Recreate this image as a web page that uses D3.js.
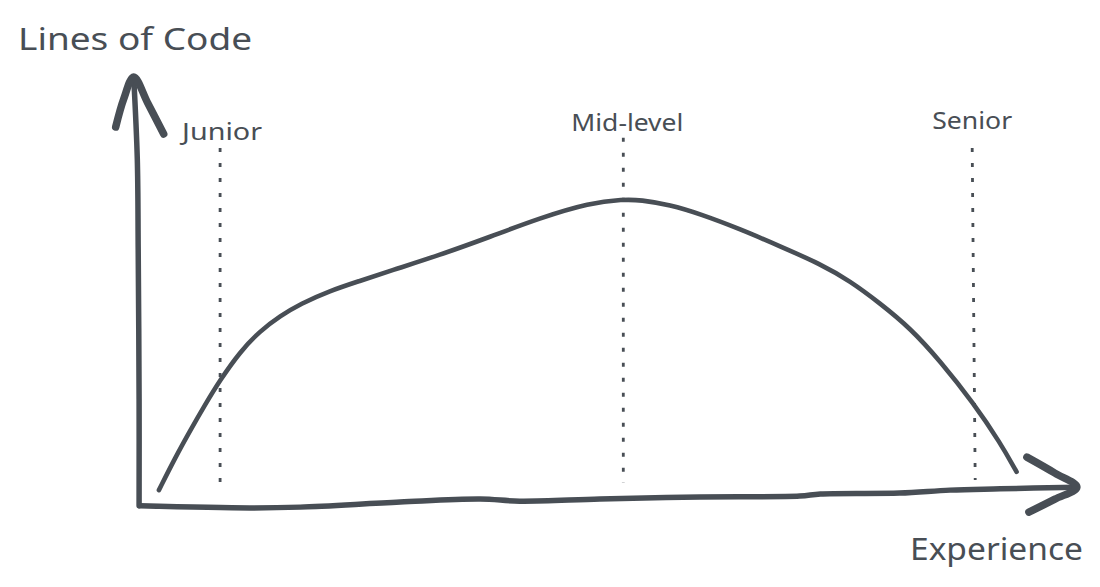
<!DOCTYPE html>
<html>
<head>
<meta charset="utf-8">
<script src="https://cdn.jsdelivr.net/npm/d3@7"></script>
<style>
  html, body { margin: 0; padding: 0; background: #ffffff; }
  svg { display: block; }
  text { font-family: "Noto Sans", "DejaVu Sans", sans-serif; fill: #484e55; }
</style>
</head>
<body>
<svg id="chart" width="1100" height="587"></svg>
<script>
// ---- data (experience 0..100 on x, lines of code 0..100 on y) ----
const curveExperience = [2.1, 3.9, 5.6, 7.2, 8.9, 11.1, 13.3, 15.6, 17.8, 21.1, 24.4, 27.8, 33.3, 38.9, 44.4, 50.0, 53.7, 55.6, 58.9, 62.2, 66.7, 71.1, 75.6, 78.9, 82.2, 85.6, 88.9, 92.6, 95.6, 97.4];
const curveLinesOfCode = [3.5, 11.1, 17.6, 23.5, 29.4, 36.0, 40.9, 44.5, 47.3, 50.4, 52.7, 55.1, 58.8, 63.1, 67.5, 71.1, 71.9, 71.8, 70.6, 68.5, 64.9, 60.9, 56.7, 52.7, 47.5, 41.6, 33.9, 24.0, 14.6, 7.8];

const levelNames = ["Junior", "Mid-level", "Senior"];
const levelExperience = [8.9, 53.7, 92.8];
const levelMarkerTop = [84.0, 86.4, 84.0];
const levelMarkerBottom = [3.1, 5.2, 5.9];

const axisTitleY = "Lines of Code";
const axisTitleX = "Experience";

// hand-drawn wobble of the x axis baseline (experience, offset)
const xAxisWobbleX = [0, 12.2, 17.8, 28.9, 37.8, 42.2, 51.1, 62.2, 73.3, 75.6, 84.4, 90.0, 95.6, 104.1];
const xAxisWobbleY = [-0.2, -0.7, -0.5, 0.7, 1.4, 0.9, 1.4, 1.9, 2.1, 2.6, 2.8, 3.5, 3.8, 4.2];
const yAxisWobbleX = [-0.1, -0.1, -0.2, -0.3, -0.7];
const yAxisWobbleY = [-0.2, 24.9, 60.2, 81.4, 100.7];

// ---- drawing ----
const ink = "#484e55";
const svg = d3.select("#chart");
const x = d3.scaleLinear().domain([0, 100]).range([140, 1040]);
const y = d3.scaleLinear().domain([0, 100]).range([505, 80]);

const line = d3.line().x(d => x(d[0])).y(d => y(d[1]));

// x axis
const xAxisPts = d3.zip(xAxisWobbleX, xAxisWobbleY);
svg.append("path")
  .attr("d", line.curve(d3.curveCatmullRom.alpha(0.5))(xAxisPts))
  .attr("fill", "none").attr("stroke", ink).attr("stroke-width", 5.5)
  .attr("stroke-linecap", "round").attr("stroke-linejoin", "round");
const xTip = xAxisPts[xAxisPts.length - 1];
svg.append("path")
  .attr("d", d3.line().curve(d3.curveCatmullRom)([
    [x(xTip[0]) - 50, y(xTip[1]) - 30],
    [x(xTip[0]) - 22, y(xTip[1]) - 14],
    [x(xTip[0]), y(xTip[1])],
    [x(xTip[0]) - 22, y(xTip[1]) + 12],
    [x(xTip[0]) - 48, y(xTip[1]) + 25]
  ]))
  .attr("fill", "none").attr("stroke", ink).attr("stroke-width", 7.5)
  .attr("stroke-linecap", "round").attr("stroke-linejoin", "round");

// y axis
const yAxisPts = d3.zip(yAxisWobbleX, yAxisWobbleY);
svg.append("path")
  .attr("d", line.curve(d3.curveCatmullRom.alpha(0.5))(yAxisPts))
  .attr("fill", "none").attr("stroke", ink).attr("stroke-width", 5.5)
  .attr("stroke-linecap", "round").attr("stroke-linejoin", "round");
const yTip = yAxisPts[yAxisPts.length - 1];
svg.append("path")
  .attr("d", d3.line().curve(d3.curveCatmullRom)([
    [x(yTip[0]) - 18, y(yTip[1]) + 50],
    [x(yTip[0]) - 10, y(yTip[1]) + 22],
    [x(yTip[0]), y(yTip[1])],
    [x(yTip[0]) + 14, y(yTip[1]) + 26],
    [x(yTip[0]) + 30, y(yTip[1]) + 57]
  ]))
  .attr("fill", "none").attr("stroke", ink).attr("stroke-width", 7.5)
  .attr("stroke-linecap", "round").attr("stroke-linejoin", "round");

// level markers (dotted)
levelNames.forEach((name, i) => {
  const tilt = i === 2 ? -3 : 0;
  svg.append("line")
    .attr("x1", x(levelExperience[i]) + tilt).attr("y1", y(levelMarkerTop[i]))
    .attr("x2", x(levelExperience[i])).attr("y2", y(levelMarkerBottom[i]))
    .attr("stroke", ink).attr("stroke-width", 2.8)
    .attr("stroke-dasharray", "4 11");
});

// curve
svg.append("path")
  .attr("d", d3.line().x(d => x(d[0])).y(d => y(d[1])).curve(d3.curveBasis)(d3.zip(curveExperience, curveLinesOfCode)))
  .attr("fill", "none").attr("stroke", ink).attr("stroke-width", 4.6)
  .attr("stroke-linecap", "round").attr("stroke-linejoin", "round");

// level labels
const labelDx = [2, 4, -3];
const labelWidth = [80, 112, 80];
const labelBaseline = [140, 131, 129];
levelNames.forEach((name, i) => {
  svg.append("text")
    .attr("x", x(levelExperience[i]) + labelDx[i])
    .attr("y", labelBaseline[i])
    .attr("text-anchor", "middle")
    .attr("font-size", 23)
    .attr("textLength", labelWidth[i])
    .attr("lengthAdjust", "spacingAndGlyphs")
    .text(name);
});

// axis titles
svg.append("text")
  .attr("x", 18).attr("y", 50)
  .attr("font-size", 30)
  .attr("textLength", 234).attr("lengthAdjust", "spacingAndGlyphs")
  .text(axisTitleY);
svg.append("text")
  .attr("x", 910).attr("y", 560)
  .attr("font-size", 30)
  .attr("textLength", 173).attr("lengthAdjust", "spacingAndGlyphs")
  .text(axisTitleX);
</script>
</body>
</html>
